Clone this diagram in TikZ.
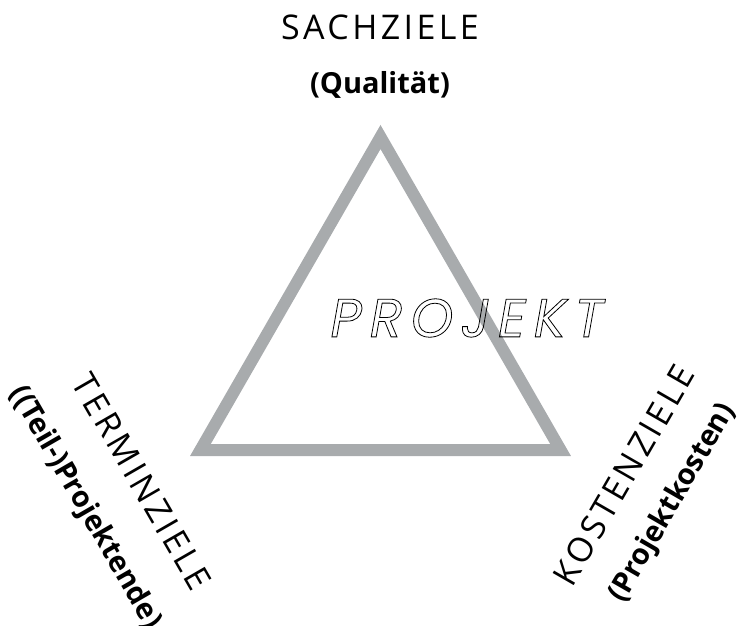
\documentclass[tikz,border=0pt]{standalone}
\usepackage{fontspec}
\setmainfont{Open Sans}
\newfontfamily\capsfont[LetterSpace=10]{Open Sans}
\newfontfamily\projektfont[LetterSpace=15]{Poppins}
\definecolor{trianglegray}{RGB}{168,171,173}
\tikzset{
  caps/.style = {inner sep = 0pt, font = \fontsize{34}{40}\selectfont\capsfont},
  sub/.style = {inner sep = 0pt, font = \fontsize{29}{35}\selectfont\bfseries}
}
\begin{document}
\begin{tikzpicture}[x = 1pt, y = -1pt]
      \useasboundingbox (0, 0) rectangle (740, 625);

      % triangle
      % --------
      \draw [-, line width = 12pt, color = trianglegray, line join = miter]
        (200.4, 450) --
        (560.6, 450) --
        (380.5, 137) --
        cycle
      ;

      % top
      % ---
      \node [caps] (sachziele) at (380, 27) {SACHZIELE};
      \node [sub] (qualitaet) at (380, 85) {(Qualität)};

      % left
      % ----
      \node [caps, rotate = -60] (terminziele) at (142, 482) {TERMINZIELE};
      \node [sub, rotate = -60] (projektende) at (85, 508) {((Teil-)Projektende)};

      % right
      % -----
      \node [caps, rotate = 60] (kostenziele) at (624, 475) {KOSTENZIELE};
      \node [sub, rotate = 60] (projektkosten) at (673, 503) {(Projektkosten)};

      % centre
      % ------
      \node [inner sep = 0pt, font = \fontsize{54}{64}\selectfont\projektfont\itshape]
        (projekt) at (467, 318)
        {\special{pdf:literal 1 Tr 0.8 w}PROJEKT\special{pdf:literal 0 Tr}};
\end{tikzpicture}
\end{document}
